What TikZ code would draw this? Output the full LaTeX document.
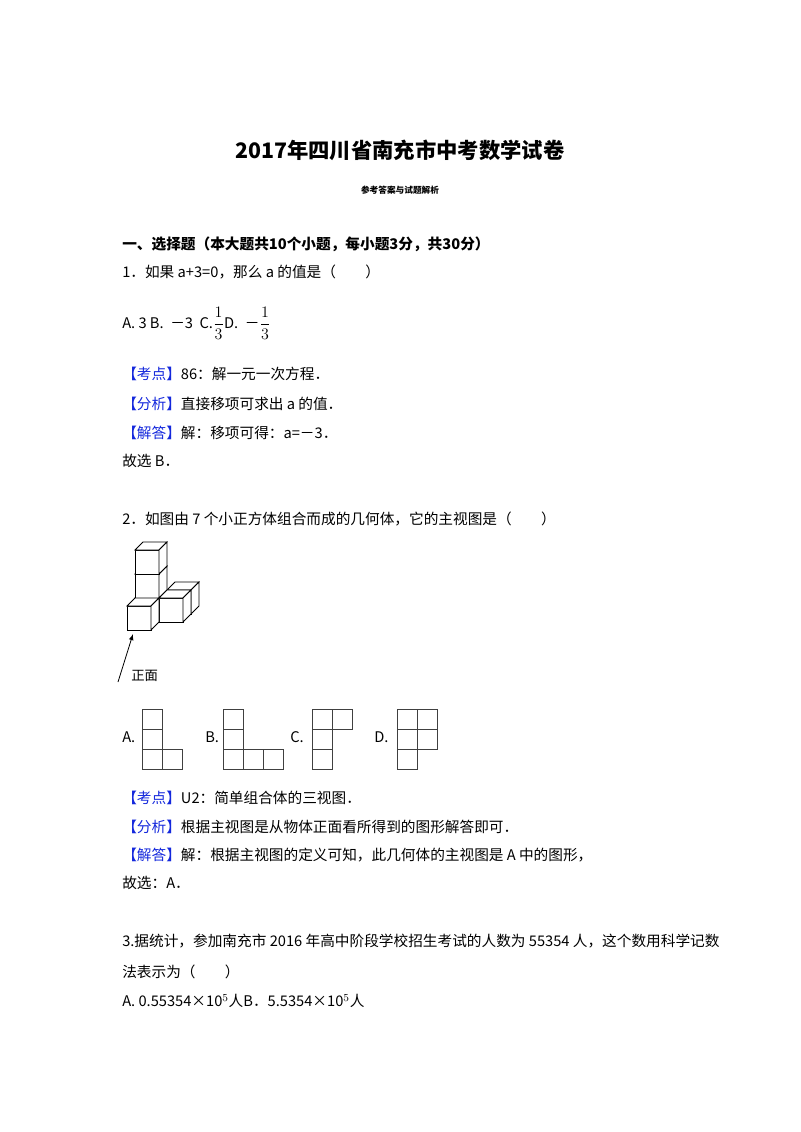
\documentclass[tikz,border=0pt]{standalone}
\usepackage{fontspec}
\setmainfont{Liberation Serif}
\newfontfamily\cjk{Noto Sans CJK SC}
\definecolor{kblue}{RGB}{20,40,220}
\newcommand{\kd}[1]{\textcolor{kblue}{【#1】}}
\begin{document}
\begin{tikzpicture}[x=0.75pt,y=-0.75pt,
  t/.style={anchor=west,inner sep=0pt,font=\cjk\fontsize{11}{13}\selectfont},
  sq/.style={draw=black!75,line width=0.6pt},
  cf/.style={draw=black,fill=white,line width=0.6pt}]
\useasboundingbox (0,0) rectangle (800,1132);
\node[inner sep=0pt,font=\cjk\bfseries\fontsize{16}{18}\selectfont] (title) at (400,150) {2017年四川省南充市中考数学试卷};
\node[inner sep=0pt,font=\cjk\bfseries\fontsize{6.5}{8}\selectfont] (sub) at (400,190) {参考答案与试题解析};
\node[t,font=\cjk\bfseries\fontsize{11}{13}\selectfont] (sec) at (122,244) {一、选择题（本大题共10个小题，每小题3分，共30分）};
\node[t] (q1) at (122,272) {1．如果 a+3=0，那么 a 的值是（\quad\quad）};
\node[t] (q1o) at (122,323) {A. 3 B.\ \ －3\ \ C.{\large$\displaystyle\frac{1}{3}$}D.\ \ －{\large$\displaystyle\frac{1}{3}$}};
\node[t] (k1) at (122,374) {\kd{考点}86：解一元一次方程．};
\node[t] (f1) at (122,404) {\kd{分析}直接移项可求出 a 的值．};
\node[t] (j1) at (122,433) {\kd{解答}解：移项可得：a=－3．};
\node[t] (g1) at (122,461) {故选 B．};
\node[t] (q2) at (122,519) {2．如图由 7 个小正方体组合而成的几何体，它的主视图是（\quad\quad）};
% cubes
\foreach \x/\d/\z in {1/2/0,0/1/0,0/1/1,0/1/2,1/1/0,0/0/0}{
  \pgfmathsetmacro\px{127+24*\x+8*\d}
  \pgfmathsetmacro\py{630-24*\z-8*\d}
  \draw[cf] (\px,\py) rectangle ++(24,-24);
  \draw[cf] (\px,\py-24) -- ++(8,-8) -- ++(24,0) -- ++(-8,8) -- cycle;
  \draw[cf] (\px+24,\py) -- ++(8,-8) -- ++(0,-24) -- ++(-8,8) -- cycle;
}
\coordinate (ar0) at (118,682);
\coordinate (ar1) at (133,634);
\draw[-latex,line width=0.6pt] (ar0) -- (ar1);
\node[t,font=\cjk\fontsize{10}{12}\selectfont] (zm) at (131,676) {正面};
% options
\node[t] (oa) at (122,737) {A.};
\node[t] (ob) at (205,737) {B.};
\node[t] (oc) at (290,737) {C.};
\node[t] (od) at (374,737) {D.};
\foreach \a/\b in {142/709,142/729,142/749,162/749,
  223/709,223/729,223/749,243/749,263/749,
  312/709,312/729,312/749,332/709,
  397/709,417/709,397/729,417/729,397/749}
  \draw[sq] (\a,\b) rectangle ++(20,20);
\node[t] (k2) at (122,798) {\kd{考点}U2：简单组合体的三视图．};
\node[t] (f2) at (122,827) {\kd{分析}根据主视图是从物体正面看所得到的图形解答即可．};
\node[t] (j2) at (122,855) {\kd{解答}解：根据主视图的定义可知，此几何体的主视图是 A 中的图形，};
\node[t] (g2) at (122,883) {故选：A．};
\node[t] (q3) at (122,941) {3.据统计，参加南充市 2016 年高中阶段学校招生考试的人数为 55354 人，这个数用科学记数};
\node[t] (q3b) at (122,972) {法表示为（\quad\quad）};
\node[t] (q3o) at (122,1001) {A. 0.55354×10$^{5}$人B．5.5354×10$^{5}$人};
\end{tikzpicture}
\end{document}
